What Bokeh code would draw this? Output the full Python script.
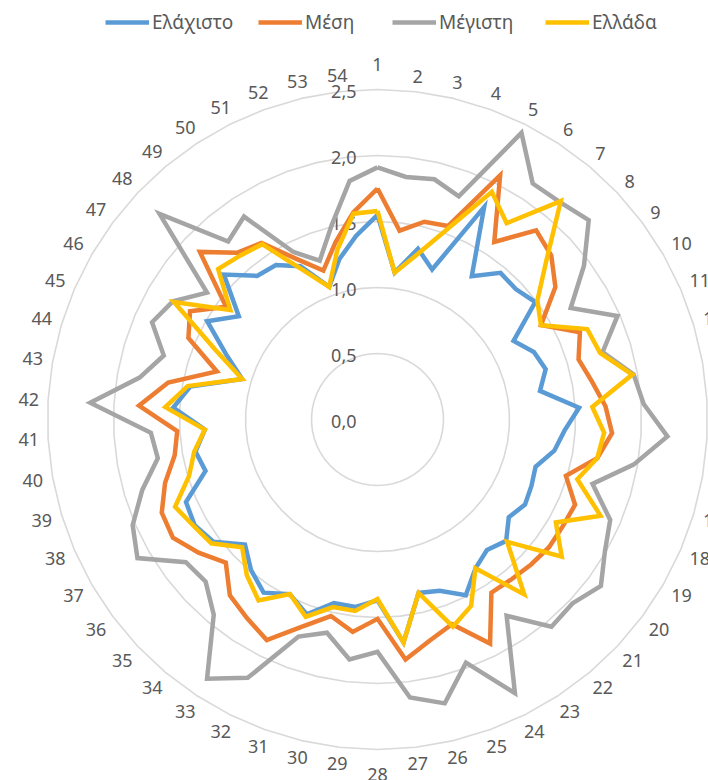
import numpy as np
from bokeh.plotting import figure
from bokeh.models import ColumnDataSource, Legend, LegendItem, Range1d
from bokeh.embed import file_html
from bokeh.resources import INLINE
from bokeh.core.properties import value

# ---------------- data ----------------
categories = [str(i) for i in range(1, 55)]
series_names = ["Ελάχιστο", "Μέση", "Μέγιστη", "Ελλάδα"]

minimum = [1.55, 1.12, 1.33, 1.21, 1.80, 1.30, 1.45, 1.44, 1.49, 1.19,
           1.29, 1.33, 1.25, 1.53, 1.42, 1.36, 1.25, 1.27, 1.29, 1.24,
           1.34, 1.29, 1.35, 1.49, 1.38, 1.35, 1.70, 1.37, 1.43, 1.43,
           1.57, 1.48, 1.57, 1.49, 1.38, 1.55, 1.60, 1.58, 1.36, 1.40,
           1.31, 1.55, 1.44, 1.07, 1.25, 1.49, 1.31, 1.60, 1.42, 1.40,
           1.30, 1.07, 1.25, 1.40]
mean = [1.75, 1.44, 1.54, 1.56, 2.07, 1.61, 1.87, 1.81, 1.68, 1.43,
        1.67, 1.59, 1.65, 1.73, 1.78, 1.69, 1.49, 1.63, 1.62, 1.62,
        1.60, 1.58, 1.57, 1.90, 1.65, 1.72, 1.83, 1.51, 1.62, 1.53,
        1.67, 1.87, 1.80, 1.74, 1.58, 1.69, 1.79, 1.78, 1.68, 1.56,
        1.52, 1.81, 1.61, 1.27, 1.56, 1.64, 1.43, 1.85, 1.65, 1.60,
        1.36, 1.20, 1.38, 1.58]
maximum = [1.91, 1.85, 1.87, 1.80, 2.43, 2.14, 2.15, 2.20, 1.95, 1.69,
           1.98, 1.78, 1.97, 2.02, 2.20, 1.97, 1.70, 1.92, 1.99, 2.11,
           2.03, 2.05, 1.78, 2.32, 1.96, 2.21, 2.12, 1.76, 1.83, 1.66,
           1.75, 2.19, 2.35, 1.93, 1.79, 1.81, 2.10, 2.02, 1.86, 1.69,
           1.72, 2.18, 1.83, 1.69, 1.86, 1.79, 1.61, 2.27, 1.76, 1.84,
           1.42, 1.28, 1.51, 1.82]
greece = [1.58, 1.12, 1.28, 1.53, 1.93, 1.78, 2.16, 1.76, 1.51, 1.43,
          1.73, 1.76, 1.96, 1.63, 1.72, 1.69, 1.58, 1.84, 1.56, 1.74,
          1.35, 1.73, 1.35, 1.58, 1.67, 1.35, 1.70, 1.36, 1.46, 1.46,
          1.59, 1.48, 1.64, 1.54, 1.41, 1.57, 1.61, 1.67, 1.49, 1.41,
          1.31, 1.61, 1.46, 1.07, 1.34, 1.78, 1.39, 1.66, 1.62, 1.59,
          1.27, 1.07, 1.32, 1.57]

r_ticks = [0.0, 0.5, 1.0, 1.5, 2.0, 2.5]
r_tick_labels = ["0,0", "0,5", "1,0", "1,5", "2,0", "2,5"]
colors = ["#5B9BD5", "#ED7D31", "#A5A5A5", "#FFC000"]

# ---------------- layout ----------------
W, H = 708, 780
CX, CY = 377, 419      # centre of the radar, pixels from top-left
PX = 132.0             # pixels per unit of value
FONT = "Noto Sans"
TXT = "#595959"

n = len(categories)
theta = 2 * np.pi * np.arange(n) / n

p = figure(width=W, height=H, output_backend="svg", toolbar_location=None,
           x_range=Range1d(-CX / PX, (W - CX) / PX),
           y_range=Range1d(-(H - CY) / PX, CY / PX),
           x_axis_type=None, y_axis_type=None, min_border=0,
           outline_line_color=None, background_fill_color="white",
           border_fill_color="white")
p.grid.visible = False

# gridline polygons
ring_th = np.append(theta, theta[0])
gx = [list(r * np.sin(ring_th)) for r in r_ticks[1:]]
gy = [list(r * np.cos(ring_th)) for r in r_ticks[1:]]
p.multi_line(xs=gx, ys=gy, line_color="#D9D9D9", line_width=1.6)

# radial tick labels
p.text(x=[-21 / PX] * len(r_ticks), y=[v - 2 / PX for v in r_ticks],
       text=r_tick_labels, text_align="right", text_baseline="middle",
       text_font=value(FONT), text_font_size="18px", text_color=TXT)

# category labels: box kept at a fixed distance outside the outer ring
s, c = np.sin(theta), np.cos(theta)
half_w = np.array([5.5 * len(t) for t in categories])
extra = np.where(np.abs(c) > 0.9999, 10.0, 0.0)
lab_r = (338 + np.abs(s) * half_w + np.abs(c) * 7 + extra) / PX
p.text(x=list(lab_r * s), y=list(lab_r * c),
       text=categories, text_align="center", text_baseline="middle",
       text_font=value(FONT), text_font_size="18px", text_color=TXT)

# series
renderers = []
for name, vals, col in zip(series_names, [minimum, mean, maximum, greece], colors):
    v = np.array(vals + [vals[0]])
    src = ColumnDataSource(dict(x=v * np.sin(ring_th), y=v * np.cos(ring_th)))
    r = p.line("x", "y", source=src, line_color=col, line_width=4.5,
               line_join="miter")
    renderers.append(r)

# legend: one box per entry, positioned like the reference
leg_x = [105, 258, 392, 545]
for name, r, lx in zip(series_names, renderers, leg_x):
    lg = Legend(items=[LegendItem(label=name, renderers=[r])],
                location=(lx, H - 35), orientation="horizontal",
                padding=0, margin=0, glyph_width=44, glyph_height=20,
                label_height=20, label_standoff=3,
                label_text_font=FONT, label_text_font_size="19px",
                label_text_color=TXT, border_line_color=None,
                background_fill_alpha=0)
    p.add_layout(lg)

open("out.html", "w").write(file_html(p, INLINE))
